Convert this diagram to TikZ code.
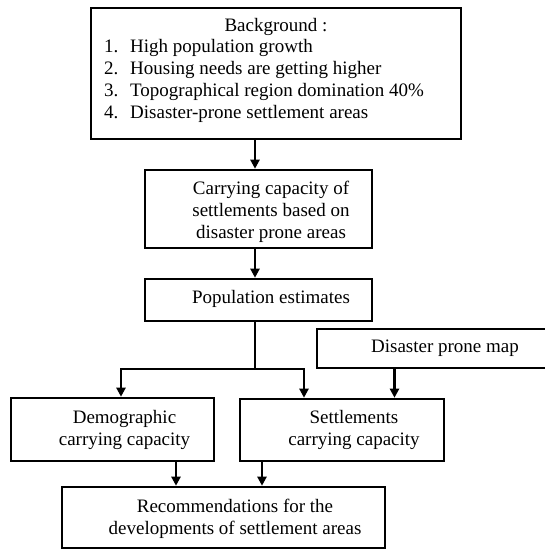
\documentclass[tikz,border=0pt]{standalone}
\usepackage{fontspec}
\setmainfont{Liberation Serif}
\usetikzlibrary{arrows.meta}
\begin{document}
\begin{tikzpicture}[x=1pt,y=-1pt,
  box/.style={draw,line width=2.6pt,inner sep=0pt},
  txt/.style={inner sep=0pt,align=center,font=\fontsize{19}{22}\selectfont},
  ltxt/.style={inner sep=0pt,align=left,anchor=west,font=\fontsize{19}{21.8}\selectfont},
  conn/.style={line width=2.4pt},
  arr/.style={line width=2.4pt,-{Triangle[length=9pt,width=9pt]}}]
\useasboundingbox (0,0) rectangle (545,550);
% boxes
\node[box,minimum width=370pt,minimum height=131pt] (b1) at (276,73.5) {};
\node[box,minimum width=227pt,minimum height=78pt] (b2) at (258.5,209) {};
\node[box,minimum width=227pt,minimum height=42pt] (pop) at (258.5,300) {};
\node[box,minimum width=243pt,minimum height=39pt] (map) at (438.5,348.5) {};
\node[box,minimum width=203pt,minimum height=63pt] (demo) at (112.5,429.5) {};
\node[box,minimum width=204pt,minimum height=62pt] (sett) at (342,430) {};
\node[box,minimum width=323pt,minimum height=61pt] (rec) at (223.5,517.5) {};
% texts
\node[txt] (t1a) at (276,27) {Background :};
\node[ltxt] (t1b) at (104,81) {\makebox[26pt][l]{1.}High population growth\\
\makebox[26pt][l]{2.}Housing needs are getting higher\\
\makebox[26pt][l]{3.}Topographical region domination 40\%\\
\makebox[26pt][l]{4.}Disaster-prone settlement areas};
\node[txt] (t2) at (271,211.5) {Carrying capacity of\\settlements based on\\disaster prone areas};
\node[txt] (tp) at (271,299) {Population estimates};
\node[txt] (tm) at (445,348) {Disaster prone map};
\node[txt] (td) at (124.5,429.5) {Demographic\\carrying capacity};
\node[txt] (ts) at (354,429.5) {Settlements\\carrying capacity};
\node[txt] (tr) at (235,518.5) {Recommendations for the\\developments of settlement areas};
% connector coordinates
\coordinate (cx) at (255,0);
\coordinate (j) at (255,369);
\coordinate (jl) at (121,369);
\coordinate (jr) at (304,369);
\coordinate (mx) at (394.5,0);
\coordinate (dx) at (176,0);
\coordinate (sx) at (262,0);
% connectors
\draw[arr] (b1.south -| cx) -- (b2.north -| cx);
\draw[arr] (b2.south -| cx) -- (pop.north -| cx);
\draw[conn] (pop.south -| cx) -- (j);
\draw[arr] (j) -| (demo.north -| jl);
\draw[arr] (j) -| (sett.north -| jr);
\draw[arr] (map.south -| mx) -- (sett.north -| mx);
\draw[arr] (demo.south -| dx) -- (rec.north -| dx);
\draw[arr] (sett.south -| sx) -- (rec.north -| sx);
\end{tikzpicture}
\end{document}
